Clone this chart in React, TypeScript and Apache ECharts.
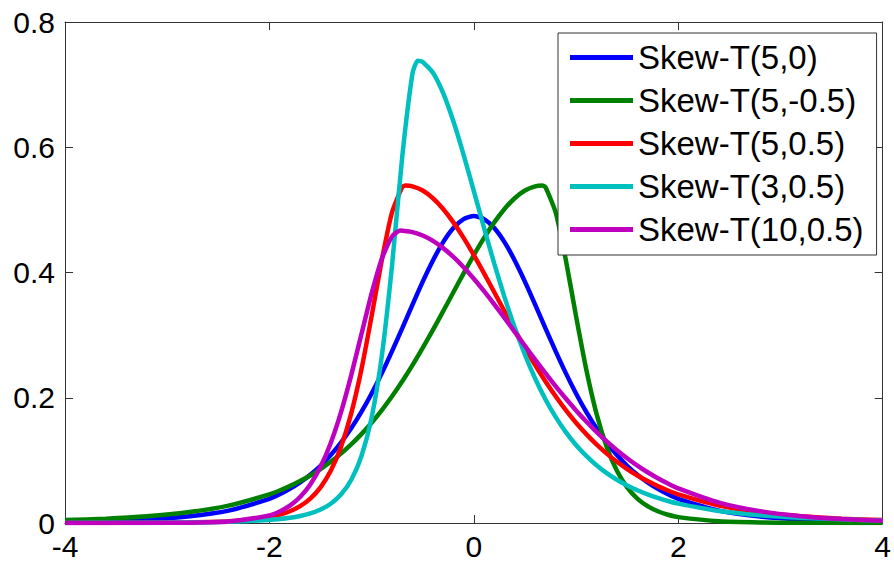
import React, { useEffect, useRef } from "react";
import * as echarts from "echarts";

const xs = [
  -4, -3.6, -3.2, -2.8, -2.4,
  -2, -1.9, -1.8, -1.7, -1.6, -1.5, -1.4, -1.3, -1.2, -1.1,
  -1, -0.9, -0.8, -0.7, -0.6, -0.5, -0.4, -0.3, -0.2, -0.1,
  0, 0.1, 0.2, 0.3, 0.4, 0.5, 0.6, 0.7, 0.8, 0.9,
  1, 1.1, 1.2, 1.3, 1.4, 1.5, 1.6, 1.7, 1.8, 1.9, 2,
  2.4, 2.8, 3.2, 3.6, 4,
];

const seriesNames = [
  "Skew-T(5,0)",
  "Skew-T(5,-0.5)",
  "Skew-T(5,0.5)",
  "Skew-T(3,0.5)",
  "Skew-T(10,0.5)",
];

const blueY = [
  0.0019, 0.0033, 0.0057, 0.0104, 0.0197,
  0.0386, 0.0458, 0.0545, 0.0648, 0.077, 0.0914, 0.1084, 0.1283, 0.1512, 0.1773,
  0.2068, 0.2393, 0.2744, 0.3113, 0.3488, 0.3855, 0.4193, 0.4485, 0.471, 0.4852,
  0.4901, 0.4852, 0.471, 0.4485, 0.4193, 0.3855, 0.3488, 0.3113, 0.2744, 0.2393,
  0.2068, 0.1773, 0.1512, 0.1283, 0.1084, 0.0914, 0.077, 0.0648, 0.0545, 0.0458, 0.0386,
  0.0197, 0.0104, 0.0057, 0.0033, 0.0019,
];

const greenY = [
  0.0046, 0.0069, 0.0108, 0.0172, 0.0278,
  0.0457, 0.0519, 0.0589, 0.0669, 0.0759, 0.0862, 0.0978, 0.1108, 0.1255, 0.1419,
  0.1601, 0.1802, 0.2023, 0.2263, 0.2521, 0.2796, 0.3084, 0.3382, 0.3685, 0.3986,
  0.4278, 0.4553, 0.4801, 0.5015, 0.5186, 0.5309, 0.5376, 0.5364, 0.4962, 0.4202,
  0.3303, 0.2451, 0.1747, 0.1214, 0.0833, 0.0569, 0.039, 0.0269, 0.0187, 0.0132, 0.0094,
  0.0027, 0.00093, 0.00037, 0.00016, 0.00008,
];

const redY = [
  0.00008, 0.00016, 0.00037, 0.00093, 0.0027,
  0.0094, 0.0132, 0.0187, 0.0269, 0.039, 0.0569, 0.0833, 0.1214, 0.1747, 0.2451,
  0.3303, 0.4202, 0.4962, 0.5364, 0.5376, 0.5309, 0.5186, 0.5015, 0.4801, 0.4553,
  0.4278, 0.3986, 0.3685, 0.3382, 0.3084, 0.2796, 0.2521, 0.2263, 0.2023, 0.1802,
  0.1601, 0.1419, 0.1255, 0.1108, 0.0978, 0.0862, 0.0759, 0.0669, 0.0589, 0.0519, 0.0457,
  0.0278, 0.0172, 0.0108, 0.0069, 0.0046,
];

const cyanY = [
  0.00017, 0.00028, 0.00049, 0.00092, 0.002,
  0.0049, 0.0063, 0.0083, 0.0112, 0.0153, 0.0215, 0.0308, 0.0454, 0.0686, 0.1065,
  0.1683, 0.267, 0.4118, 0.5857, 0.718, 0.7361, 0.719, 0.6864, 0.6414, 0.588,
  0.5301, 0.4712, 0.4141, 0.3606, 0.312, 0.2687, 0.2307, 0.1977, 0.1694, 0.1452,
  0.1246, 0.1071, 0.0923, 0.0797, 0.069, 0.06, 0.0522, 0.0456, 0.04, 0.0351, 0.031,
  0.0192, 0.0124, 0.0084, 0.0058, 0.0041,
];

const magentaY = [
  0.00001, 0.00003, 0.00011, 0.00048, 0.0023,
  0.0121, 0.0184, 0.0277, 0.0416, 0.0616, 0.0897, 0.1277, 0.1766, 0.2357, 0.3013,
  0.3666, 0.4221, 0.4577, 0.4668, 0.4645, 0.459, 0.4504, 0.4389, 0.4248, 0.4084,
  0.3901, 0.3702, 0.3492, 0.3274, 0.3052, 0.2829, 0.2609, 0.2394, 0.2186, 0.1987,
  0.1798, 0.1621, 0.1455, 0.1302, 0.1162, 0.1033, 0.0916, 0.081, 0.0715, 0.063, 0.0553,
  0.0325, 0.0188, 0.0108, 0.0062, 0.0036,
];

// peak (mode) of each curve, in the same order as seriesNames
const peakX = [0, 0.6684, -0.6684, -0.549, -0.7206];
const peakY = [0.4901, 0.539, 0.539, 0.7382, 0.4669];

const allY = [blueY, greenY, redY, cyanY, magentaY];
const colors = ["#0000ff", "#008000", "#ff0000", "#00bfbf", "#bf00bf"];

const xTicks = { min: -4, max: 4, interval: 2 };
const yTicks = { min: 0, max: 0.8, interval: 0.2 };

const FONT = "'Liberation Sans', Arial, Helvetica, sans-serif";
const AXIS_COLOR = "#333333";

function buildData(ys: number[], px: number, py: number) {
  const d: number[][] = xs.map((x, i) => [x, ys[i]]);
  if (!d.some((p) => p[0] === px)) {
    const idx = d.findIndex((p) => p[0] > px);
    d.splice(idx < 0 ? d.length : idx, 0, [px, py]);
  }
  return d;
}

export default function App() {
  const ref = useRef<HTMLDivElement>(null);

  useEffect(() => {
    if (!ref.current) return;
    const chart = echarts.init(ref.current, null, { renderer: "svg" });

    const baseAxis = {
      type: "value" as const,
      axisLine: { show: true, onZero: false, lineStyle: { color: AXIS_COLOR, width: 1 } },
      axisTick: { show: true, inside: true, length: 8, lineStyle: { color: AXIS_COLOR, width: 1 } },
      splitLine: { show: false },
    };

    chart.setOption({
      animation: false,
      backgroundColor: "#ffffff",
      grid: { left: 65, top: 22, right: 8, bottom: 40, containLabel: false },
      xAxis: [
        {
          ...baseAxis,
          ...xTicks,
          position: "bottom",
          axisLabel: { color: "#000", fontSize: 30, lineHeight: 30, fontFamily: FONT, margin: 8 },
        },
        {
          ...baseAxis,
          ...xTicks,
          position: "top",
          axisLabel: { show: false },
        },
      ],
      yAxis: [
        {
          ...baseAxis,
          ...yTicks,
          position: "left",
          axisLabel: { color: "#000", fontSize: 30, fontFamily: FONT, margin: 10 },
        },
        {
          ...baseAxis,
          ...yTicks,
          position: "right",
          axisLabel: { show: false },
        },
      ],
      legend: {
        orient: "vertical",
        left: 558,
        top: 33,
        padding: [8, 13, 9, 12],
        itemGap: 10,
        itemWidth: 63,
        itemHeight: 5,
        icon: "rect",
        backgroundColor: "#ffffff",
        borderColor: AXIS_COLOR,
        borderWidth: 1,
        borderRadius: 0,
        textStyle: { fontSize: 33, lineHeight: 33, fontFamily: FONT, color: "#000" },
        data: seriesNames,
      },
      series: seriesNames.map((name, i) => ({
        name,
        type: "line",
        xAxisIndex: 0,
        yAxisIndex: 0,
        data: buildData(allY[i], peakX[i], peakY[i]),
        symbol: "none",
        smooth: 0.2,
        lineStyle: { color: colors[i], width: 4.5 },
        itemStyle: { color: colors[i] },
        clip: true,
      })),
    });

    return () => chart.dispose();
  }, []);

  return (
    <div
      ref={ref}
      style={{ position: "fixed", left: 0, top: 0, width: 894, height: 563, background: "#fff" }}
    />
  );
}
